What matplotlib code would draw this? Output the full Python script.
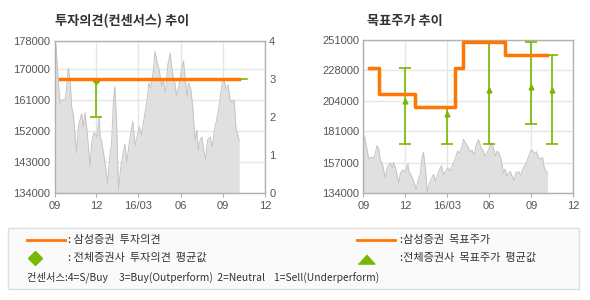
import matplotlib
matplotlib.use('Agg')
import matplotlib.pyplot as plt
from matplotlib.lines import Line2D
from matplotlib.patches import Rectangle
import pandas as pd

plt.rcParams['font.family'] = ['Liberation Sans', 'Noto Sans CJK KR', 'DejaVu Sans']

# Stock price (gray area)
price_dates = ['2015-09-01', '2015-09-04', '2015-09-09', '2015-09-13', '2015-09-17', '2015-09-24',
               '2015-09-27', '2015-10-01', '2015-10-05', '2015-10-08', '2015-10-12', '2015-10-19',
               '2015-10-23', '2015-10-30', '2015-11-03', '2015-11-06', '2015-11-11', '2015-11-17',
               '2015-11-21', '2015-11-26', '2015-12-02', '2015-12-07', '2015-12-09', '2015-12-12',
               '2015-12-20', '2015-12-25', '2015-12-30', '2016-01-03', '2016-01-07', '2016-01-10',
               '2016-01-14', '2016-01-18', '2016-01-23', '2016-01-28', '2016-02-01', '2016-02-05',
               '2016-02-12', '2016-02-18', '2016-02-23', '2016-02-26', '2016-03-03', '2016-03-08',
               '2016-03-13', '2016-03-19', '2016-03-24', '2016-03-28', '2016-04-03', '2016-04-06',
               '2016-04-11', '2016-04-15', '2016-04-21', '2016-04-24', '2016-04-29', '2016-05-04',
               '2016-05-09', '2016-05-14', '2016-05-20', '2016-05-23', '2016-05-28', '2016-06-03',
               '2016-06-07', '2016-06-11', '2016-06-15', '2016-06-18', '2016-06-23', '2016-06-27',
               '2016-07-02', '2016-07-06', '2016-07-09', '2016-07-13', '2016-07-17', '2016-07-20',
               '2016-07-25', '2016-07-29', '2016-08-04', '2016-08-09', '2016-08-13', '2016-08-18',
               '2016-08-22', '2016-08-27', '2016-08-31', '2016-09-04', '2016-09-07', '2016-09-12',
               '2016-09-16', '2016-09-21', '2016-09-25', '2016-09-29', '2016-10-02', '2016-10-06']
price_vals = [174600, 177000, 166800, 160000, 161000, 161000,
              164000, 170200, 167000, 159000, 156600, 145600,
              153400, 157000, 153200, 157300, 151600, 141600,
              149000, 151500, 150200, 156100, 150000, 149000,
              142700, 136700, 144600, 148500, 161000, 164900,
              153200, 134800, 141600, 145500, 148100, 142800,
              150100, 154700, 147600, 149600, 153200, 150700,
              155200, 160100, 165900, 164400, 169800, 175100,
              171600, 169800, 164900, 166800, 163000, 171100,
              174600, 168800, 165400, 162000, 165000, 169800,
              172300, 166800, 162000, 165900, 164000, 159100,
              149200, 152200, 146400, 149200, 150200, 147300,
              143500, 149200, 150200, 147300, 152200, 155200,
              158100, 163000, 166800, 166300, 164000, 165400,
              161000, 160100, 161000, 152700, 151200, 149200]

# Investment opinion (Samsung Securities) and consensus average
opinion_dates = ['2015-09-13', '2016-10-05']
opinion_vals = [3, 3]
opinion_avg_line_dates = ['2015-09-13', '2016-10-23']
opinion_avg_line_vals = [3, 3]
cons_dates = ['2015-12-01']
cons_avg = [2.94]
cons_low = [2]
cons_high = [3]

# Target price (Samsung Securities), step line
target_dates = ['2015-09-13', '2015-10-05', '2015-12-22', '2016-03-18', '2016-04-04', '2016-07-05', '2016-10-05']
target_vals = [230000, 210000, 200000, 230000, 250000, 240000, 240000]

# Target price of all brokers: average, low, high
tp_dates = ['2015-12-01', '2016-03-01', '2016-06-01', '2016-09-01', '2016-10-16']
tp_avg = [204000, 194000, 212500, 215000, 212500]
tp_low = [171000, 171000, 171000, 186600, 171000]
tp_high = [230000, 200000, 250000, 250000, 240000]

x_ticks = ['2015-09-01', '2015-12-01', '2016-03-01', '2016-06-01', '2016-09-01', '2016-12-01']
x_labels = ['09', '12', '16/03', '06', '09', '12']
left_yticks = [134000, 143000, 152000, 161000, 170000, 178000]
right_yticks = [134000, 157000, 181000, 204000, 228000, 251000]

ORANGE = '#FF7700'
GREEN = '#77B800'
GRID = '#E6E6E6'
SPINE = '#B0B0B0'
TXT = '#555555'

W, H = 590, 300
fig = plt.figure(figsize=(5.9, 3.0), dpi=100)

pd_dates = pd.to_datetime(price_dates)
xt = pd.to_datetime(x_ticks)
xlim = (xt[0], xt[-1])


def style_axes(ax, yticks, ylim):
    ax.set_xlim(xlim)
    ax.set_ylim(ylim)
    ax.set_xticks(xt)
    ax.set_xticklabels(x_labels)
    ax.set_yticks(yticks)
    ax.set_yticklabels([str(v) for v in yticks])
    ax.grid(True, color=GRID, linewidth=1, zorder=0)
    ax.set_axisbelow(True)
    for s in ax.spines.values():
        s.set_color(SPINE)
        s.set_linewidth(1)
    ax.tick_params(axis='x', length=3, color=SPINE, labelsize=8, labelcolor=TXT, pad=3)
    ax.tick_params(axis='y', length=0, labelsize=8, labelcolor=TXT, pad=3)
    ax.fill_between(pd_dates, price_vals, ylim[0], color='#E0E0E0', linewidth=0, zorder=1)
    ax.plot(pd_dates, price_vals, color='#C4C4C4', linewidth=0.7, zorder=2)


# Left chart: opinion
ax1 = fig.add_axes([54.5 / W, 1 - 192.7 / H, 210.5 / W, 151.5 / H])
style_axes(ax1, left_yticks, (134000, 178000))
ax1b = ax1.twinx()
ax1b.set_ylim(0, 4)
ax1b.set_yticks([0, 1, 2, 3, 4])
ax1b.tick_params(axis='y', length=0, labelsize=8, labelcolor=TXT, pad=3)
for s in ax1b.spines.values():
    s.set_visible(False)
ax1b.plot(pd.to_datetime(opinion_avg_line_dates), opinion_avg_line_vals, color=GREEN, linewidth=1.2, zorder=3)
cd = pd.to_datetime(cons_dates)
ax1b.errorbar(cd, cons_avg,
              yerr=[[a - l for a, l in zip(cons_avg, cons_low)], [h - a for a, h in zip(cons_avg, cons_high)]],
              fmt='D', ms=3, color=GREEN, ecolor=GREEN, elinewidth=1.2, capsize=4, capthick=1.2, zorder=4)
ax1b.plot(pd.to_datetime(opinion_dates), opinion_vals, color=ORANGE, linewidth=2.5, zorder=5)
ax1b.set_xlim(xlim)

# Right chart: target price
ax2 = fig.add_axes([363.3 / W, 1 - 192.7 / H, 210 / W, 152.5 / H])
style_axes(ax2, right_yticks, (134000, 251000))
td = pd.to_datetime(tp_dates)
ax2.errorbar(td, tp_avg,
             yerr=[[a - l for a, l in zip(tp_avg, tp_low)], [h - a for a, h in zip(tp_avg, tp_high)]],
             fmt='^', ms=3.5, color=GREEN, ecolor=GREEN, elinewidth=1.2, capsize=4, capthick=1.2, zorder=4)
ax2.step(pd.to_datetime(target_dates), target_vals, where='post', color=ORANGE, linewidth=2.5, zorder=5,
         clip_on=False)

# Titles
fig.text(55 / W, 1 - 20.5 / H, '투자의견(컨센서스) 추이', fontsize=9.5, fontweight='bold',
         family=['Noto Sans CJK KR'], color='#333333', va='center')
fig.text(367 / W, 1 - 20.5 / H, '목표주가 추이', fontsize=9.5, fontweight='bold',
         family=['Noto Sans CJK KR'], color='#333333', va='center')

# Legend box
fig.patches.append(Rectangle((8 / W, 1 - 289 / H), 571 / W, 61 / H, transform=fig.transFigure,
                             facecolor='#FAFAFA', edgecolor='#DDDDDD', linewidth=1))
fig.lines.append(Line2D([27 / W, 65 / W], [1 - 240 / H] * 2, transform=fig.transFigure, color=ORANGE, linewidth=2))
fig.lines.append(Line2D([357 / W, 395 / W], [1 - 240 / H] * 2, transform=fig.transFigure, color=ORANGE, linewidth=2))
fig.lines.append(Line2D([35 / W], [1 - 258 / H], transform=fig.transFigure, marker='D', ms=7, color=GREEN,
                        linestyle='none'))
fig.lines.append(Line2D([366 / W], [1 - 259 / H], transform=fig.transFigure,
                        marker=[(-1.0, -0.55), (1.0, -0.55), (0.0, 0.55)], ms=12, color=GREEN,
                        linestyle='none'))
lk = dict(fontsize=8, family=['Noto Sans CJK KR', 'DejaVu Sans'], color='#333333', va='center')
fig.text(68 / W, 1 - 240 / H, ': 삼성증권  투자의견', **lk)
fig.text(68 / W, 1 - 258 / H, ': 전체증권사  투자의견  평균값', **lk)
fig.text(400 / W, 1 - 240 / H, ':삼성증권  목표주가', **lk)
fig.text(400 / W, 1 - 258 / H, ':전체증권사  목표주가  평균값', **lk)
fig.text(27 / W, 1 - 277 / H, '컨센서스:4=S/Buy     3=Buy(Outperform)  2=Neutral    1=Sell(Underperform)',
         fontsize=7.4, family=['Noto Sans CJK KR', 'DejaVu Sans'], color='#333333', va='center')

fig.savefig('out.png', dpi=100, facecolor='white')
